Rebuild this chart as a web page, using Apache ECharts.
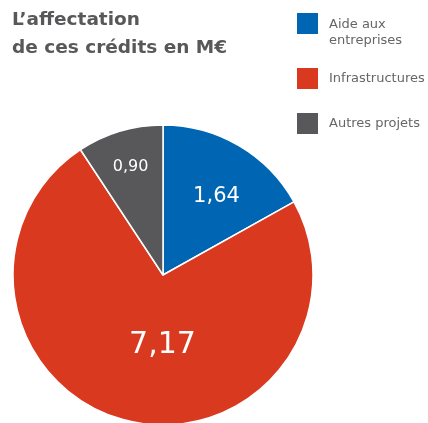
<!DOCTYPE html>
<html>
<head>
<meta charset="utf-8">
<script src="https://cdn.jsdelivr.net/npm/echarts@6/dist/echarts.min.js"></script>
<style>
  html, body { margin: 0; padding: 0; background: #fff; }
  #chart { width: 428px; height: 423px; }
</style>
</head>
<body>
<div id="chart"></div>
<script>
const categories = ["Aide aux\nentreprises", "Infrastructures", "Autres projets"];
const values = [1.64, 7.17, 0.9];
const colors = ["#0066b3", "#d9391f", "#58585a"];

// label size + nudge per slice, to sit where the original puts them
const labelSizes = [21, 30, 16];
const labelOffsets = [[14, -11], [18, -6], [-10, -33]];

const chart = echarts.init(document.getElementById("chart"), null, { renderer: "canvas" });

function fmt(v) {
  return v.toFixed(2).replace(".", ",");
}

// one legend per item so the spacing follows the picture
const legendTops = [-2, 66, 111];
const legends = categories.map((c, i) => ({
  data: [c],
  left: 295,
  top: legendTops[i],
  padding: 0,
  orient: "vertical",
  icon: "rect",
  itemWidth: 23,
  itemHeight: 23,
  itemGap: 10,
  selectedMode: false,
  // a little extra room after the square; first label hangs below it
  formatter: (name) => {
    const lines = name.split("\n").map((l) => "{g| }" + l).join("\n");
    return i == 0 ? "{s| }\n" + lines : lines;
  },
  textStyle: {
    color: "#666",
    fontSize: 13,
    fontFamily: "DejaVu Sans",
    lineHeight: 16,
    rich: {
      s: { height: 19, lineHeight: 19, fontSize: 6 },
      g: { width: 5, fontSize: 6 },
    },
  },
}));

const option = {
  animation: false,
  backgroundColor: "#fff",
  title: {
    text: "L\u2019affectation\nde ces cr\u00e9dits en M\u20ac",
    left: 12,
    top: 6,
    padding: 0,
    textStyle: {
      color: "#58585a",
      fontSize: 18.5,
      fontWeight: "bold",
      fontFamily: "DejaVu Sans",
      lineHeight: 28,
    },
  },
  legend: legends,
  series: [
    {
      type: "pie",
      center: [163, 275],
      radius: 150,
      startAngle: 90,
      clockwise: true,
      silent: true,
      itemStyle: { borderColor: "#fff", borderWidth: 1.5 },
      label: {
        show: true,
        position: "inside",
        color: "#fff",
        fontFamily: "DejaVu Sans",
        formatter: (p) => fmt(p.value),
      },
      labelLine: { show: false },
      data: categories.map((c, i) => ({
        name: c,
        value: values[i],
        itemStyle: { color: colors[i] },
        label: { fontSize: labelSizes[i], offset: labelOffsets[i] },
      })),
    },
  ],
};

chart.setOption(option);
</script>
</body>
</html>
